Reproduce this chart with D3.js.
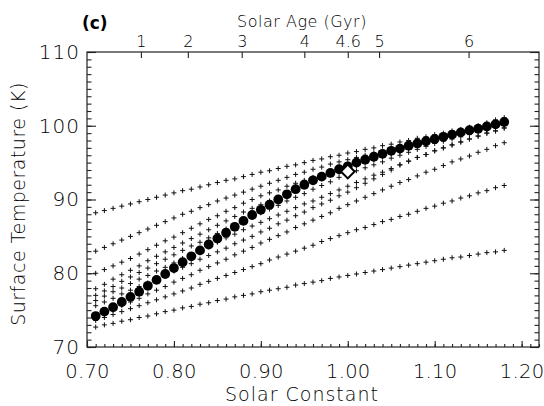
<!DOCTYPE html>
<html>
<head>
<meta charset="utf-8">
<script src="https://cdn.jsdelivr.net/npm/d3@7"></script>
<style>
  body { margin: 0; background: #fff; }
  text { font-family: "DejaVu Sans", sans-serif; font-weight: 200; fill: #000; }
</style>
</head>
<body>
<svg id="chart" width="544" height="406"></svg>
<script>
// solar constant grid (relative to today)
const solarConstant = [0.71, 0.72, 0.73, 0.74, 0.75, 0.76, 0.77, 0.78, 0.79, 0.80,
  0.81, 0.82, 0.83, 0.84, 0.85, 0.86, 0.87, 0.88, 0.89, 0.90,
  0.91, 0.92, 0.93, 0.94, 0.95, 0.96, 0.97, 0.98, 0.99, 1.00,
  1.01, 1.02, 1.03, 1.04, 1.05, 1.06, 1.07, 1.08, 1.09, 1.10,
  1.11, 1.12, 1.13, 1.14, 1.15, 1.16, 1.17, 1.18];

// evolution track (big dots)
const trackTemp = [74.2, 74.8, 75.4, 76.1, 76.8, 77.5, 78.3, 79.1, 79.9, 80.7,
  81.5, 82.3, 83.1, 83.9, 84.7, 85.5, 86.3, 87.1, 87.9, 88.6,
  89.3, 90.0, 90.7, 91.4, 92.0, 92.6, 93.1, 93.6, 94.1, 94.5,
  95.0, 95.4, 95.8, 96.2, 96.6, 96.9, 97.3, 97.6, 97.9, 98.2,
  98.5, 98.8, 99.1, 99.4, 99.6, 99.9, 100.2, 100.5];

// model runs (crosses), top to bottom
const runA = [88.2, 88.5, 88.8, 89.1, 89.4, 89.7, 90.0, 90.3, 90.6, 90.9,
  91.2, 91.4, 91.7, 92.0, 92.3, 92.6, 92.8, 93.1, 93.4, 93.7,
  93.9, 94.2, 94.5, 94.7, 95.0, 95.3, 95.5, 95.8, 96.0, 96.3,
  96.5, 96.8, 97.0, 97.3, 97.5, 97.8, 98.0, 98.3, 98.5, 98.8,
  99.0, 99.3, 99.5, 99.8, 100.0, 100.4, 100.8, 101.1];
const runB = [83.0, 83.5, 84.0, 84.5, 85.0, 85.5, 86.0, 86.5, 87.0, 87.5,
  88.0, 88.4, 88.9, 89.3, 89.8, 90.2, 90.6, 91.0, 91.4, 91.8,
  92.2, 92.6, 93.0, 93.4, 93.7, 94.1, 94.4, 94.8, 95.1, 95.4,
  95.7, 96.0, 96.3, 96.6, 96.9, 97.2, 97.5, 97.8, 98.1, 98.4,
  98.7, 99.0, 99.3, 99.6, 99.9, 100.2, 100.5, 100.8];
const runG = [80.0, 80.5, 81.0, 81.5, 82.0, 82.6, 83.2, 83.8, 84.4, 84.9,
  85.5, 86.1, 86.7, 87.3, 87.8, 88.4, 88.9, 89.5, 90.0, 90.5,
  90.9, 91.3, 91.8, 92.2, 92.6, 93.0, 93.4, 93.8, 94.2, 94.6,
  95.0, 95.3, 95.7, 96.0, 96.4, 96.7, 97.0, 97.3, 97.6, 97.9,
  98.2, 98.5, 98.8, 99.1, 99.4, 99.7, 100.0, 100.3];
const runH = [77.9, 78.5, 79.2, 79.8, 80.4, 81.0, 81.7, 82.3, 82.9, 83.5,
  84.1, 84.7, 85.3, 85.9, 86.5, 87.1, 87.7, 88.3, 88.8, 89.3,
  89.8, 90.3, 90.8, 91.3, 91.8, 92.3, 92.8, 93.3, 93.7, 94.2,
  94.6, 95.0, 95.4, 95.8, 96.2, 96.5, 96.9, 97.3, 97.6, 98.0,
  98.3, 98.6, 98.9, 99.2, 99.5, 99.8, 100.0, 100.3];
const runX = [77.0, 77.6, 78.2, 78.9, 79.5, 80.1, 80.7, 81.3, 81.9, 82.5,
  83.1, 83.7, 84.2, 84.8, 85.4, 86.0, 86.6, 87.1, 87.6, 88.2,
  88.7, 89.2, 89.8, 90.3, 90.8, 91.4, 91.9, 92.4, 93.0, 93.5,
  93.9, 94.3, 94.7, 95.1, 95.6, 96.0, 96.4, 96.8, 97.2, 97.6,
  97.9, 98.2, 98.5, 98.8, 99.2, 99.5, 99.8, 100.1];
const runC = [76.3, 76.9, 77.5, 78.0, 78.6, 79.2, 79.7, 80.3, 80.8, 81.4,
  82.0, 82.5, 83.1, 83.6, 84.2, 84.8, 85.3, 85.9, 86.4, 86.9,
  87.4, 87.9, 88.4, 88.9, 89.4, 89.8, 90.3, 90.8, 91.3, 91.8,
  92.3, 92.8, 93.3, 93.7, 94.2, 94.7, 95.2, 95.7, 96.1, 96.6,
  97.0, 97.4, 97.8, 98.2, 98.6, 99.0, 99.3, 99.7];
const runI = [75.6, 76.1, 76.6, 77.2, 77.7, 78.2, 78.7, 79.2, 79.8, 80.3,
  80.8, 81.3, 81.9, 82.4, 82.9, 83.4, 84.0, 84.5, 85.0, 85.6,
  86.1, 86.7, 87.2, 87.8, 88.3, 88.9, 89.4, 89.9, 90.5, 91.0,
  91.6, 92.2, 92.8, 93.4, 94.0, 94.7, 95.2, 95.7, 96.1, 96.6,
  97.0, 97.4, 97.8, 98.2, 98.6, 99.0, 99.3, 99.7];
const runD = [74.0, 74.5, 75.0, 75.6, 76.1, 76.6, 77.2, 77.7, 78.2, 78.8,
  79.3, 79.8, 80.4, 80.9, 81.4, 81.9, 82.5, 83.0, 83.5, 84.1,
  84.6, 85.1, 85.6, 86.2, 86.7, 87.2, 87.7, 88.2, 88.8, 89.3,
  89.8, 90.3, 90.8, 91.3, 91.8, 92.3, 92.7, 93.2, 93.7, 94.1,
  94.6, 95.1, 95.5, 95.9, 96.4, 96.8, 97.3, 97.7];
const runE = [73.6, 74.0, 74.4, 74.8, 75.2, 75.6, 76.0, 76.4, 76.8, 77.2,
  77.6, 78.0, 78.5, 78.9, 79.3, 79.7, 80.1, 80.5, 80.9, 81.3,
  81.8, 82.2, 82.6, 83.0, 83.4, 83.8, 84.3, 84.7, 85.1, 85.5,
  85.9, 86.2, 86.6, 87.0, 87.3, 87.7, 88.0, 88.4, 88.8, 89.1,
  89.5, 89.8, 90.2, 90.5, 90.9, 91.2, 91.6, 91.9];
const runF = [72.7, 73.0, 73.2, 73.5, 73.7, 74.0, 74.2, 74.5, 74.8, 75.0,
  75.3, 75.5, 75.8, 76.0, 76.3, 76.5, 76.8, 77.0, 77.2, 77.5,
  77.7, 77.9, 78.1, 78.4, 78.6, 78.8, 79.0, 79.3, 79.5, 79.7,
  79.9, 80.1, 80.3, 80.5, 80.7, 80.9, 81.1, 81.3, 81.5, 81.7,
  81.9, 82.1, 82.2, 82.4, 82.6, 82.8, 82.9, 83.1];

// present-day point (diamond)
const presentS = [1.00];
const presentT = [93.8];

// axes labels
const xTicks = [0.70, 0.80, 0.90, 1.00, 1.10, 1.20];
const yTicks = [70, 80, 90, 100, 110];
const ageLabels = ['1', '2', '3', '4', '4.6', '5', '6'];
const ageTickS = [0.762, 0.816, 0.878, 0.950, 1.000, 1.036, 1.139];

const svg = d3.select('#chart');

const x = d3.scaleLinear().domain([0.70, 1.22]).range([87, 539]);
const y = d3.scaleLinear().domain([70, 110]).range([347, 52]);

const xMinor = d3.range(0, 53).map(i => 0.70 + i * 0.01);
const yMinor = d3.range(70, 111, 1);

// frame
svg.append('rect')
  .attr('x', x(0.70)).attr('y', y(110))
  .attr('width', x(1.22) - x(0.70)).attr('height', y(70) - y(110))
  .attr('fill', 'none').attr('stroke', '#222').attr('stroke-width', 1.2);

function styleAxis(g) {
  g.select('.domain').remove();
  g.selectAll('line').attr('stroke', '#222').attr('stroke-width', 1.1);
}

// bottom axis
svg.append('g').attr('transform', `translate(0,${y(70)})`)
  .call(d3.axisBottom(x).tickValues(xMinor).tickFormat('').tickSizeInner(-3).tickSizeOuter(0))
  .call(styleAxis);
svg.append('g').attr('transform', `translate(0,${y(70)})`)
  .call(d3.axisBottom(x).tickValues(xTicks).tickFormat(d3.format('.2f'))
    .tickSizeInner(-6).tickSizeOuter(0).tickPadding(17))
  .call(styleAxis)
  .selectAll('text').style('font-size', '19.5px').attr('letter-spacing', '0.3px');

// left axis
svg.append('g').attr('transform', `translate(${x(0.70)},0)`)
  .call(d3.axisLeft(y).tickValues(yMinor).tickFormat('').tickSizeInner(-4.5).tickSizeOuter(0))
  .call(styleAxis);
svg.append('g').attr('transform', `translate(${x(0.70)},0)`)
  .call(d3.axisLeft(y).tickValues(yTicks).tickFormat(d3.format('d'))
    .tickSizeInner(-9).tickSizeOuter(0).tickPadding(7))
  .call(styleAxis)
  .selectAll('text').style('font-size', '20px').attr('letter-spacing', '1px');

// right axis
svg.append('g').attr('transform', `translate(${x(1.22)},0)`)
  .call(d3.axisRight(y).tickValues(yMinor).tickFormat('').tickSizeInner(-4.5).tickSizeOuter(0))
  .call(styleAxis);
svg.append('g').attr('transform', `translate(${x(1.22)},0)`)
  .call(d3.axisRight(y).tickValues(yTicks).tickFormat('').tickSizeInner(-9).tickSizeOuter(0))
  .call(styleAxis);

// top axis: solar age
svg.append('g').attr('transform', `translate(0,${y(110)})`)
  .call(d3.axisTop(x).tickValues(ageTickS).tickFormat((d, i) => ageLabels[i])
    .tickSizeInner(-6).tickSizeOuter(0).tickPadding(5))
  .call(styleAxis)
  .selectAll('text').style('font-size', '16px');

// titles
svg.append('text').attr('x', 302).attr('y', 27).attr('text-anchor', 'middle')
  .style('font-size', '16px').attr('letter-spacing', '0.5px').text('Solar Age (Gyr)');
svg.append('text').attr('x', 302).attr('y', 401).attr('text-anchor', 'middle')
  .style('font-size', '19px').attr('letter-spacing', '1px').text('Solar Constant');
svg.append('text').attr('transform', 'translate(25,204) rotate(-90)').attr('text-anchor', 'middle')
  .style('font-size', '19px').attr('letter-spacing', '0.5px').text('Surface Temperature (K)');
svg.append('text').attr('x', 82).attr('y', 29)
  .style('font-size', '17px').style('font-weight', 'bold').text('(c)');

// crosses
const runs = [runA, runB, runG, runH, runX, runC, runI, runD, runE, runF];
const crossG = svg.append('g').attr('stroke', '#111').attr('stroke-width', 1);
runs.forEach(run => {
  crossG.append('g').selectAll('path')
    .data(run.map((t, i) => [solarConstant[i], t]))
    .enter().append('path')
    .attr('d', d => {
      const cx = x(d[0]), cy = y(d[1]);
      return `M${cx - 2.5},${cy}H${cx + 2.5}M${cx},${cy - 2.5}V${cy + 2.5}`;
    });
});

// evolution track
svg.append('g').selectAll('circle')
  .data(trackTemp.map((t, i) => [solarConstant[i], t]))
  .enter().append('circle')
  .attr('cx', d => x(d[0]))
  .attr('cy', d => y(d[1]))
  .attr('r', 4.9)
  .attr('fill', '#000');

// present day diamond
svg.append('g').selectAll('path')
  .data(presentS.map((s, i) => [s, presentT[i]]))
  .enter().append('path')
  .attr('d', d3.symbol(d3.symbolDiamond2, 120))
  .attr('transform', d => `translate(${x(d[0])},${y(d[1])})`)
  .attr('fill', '#fff').attr('stroke', '#000').attr('stroke-width', 2);
</script>
</body>
</html>
